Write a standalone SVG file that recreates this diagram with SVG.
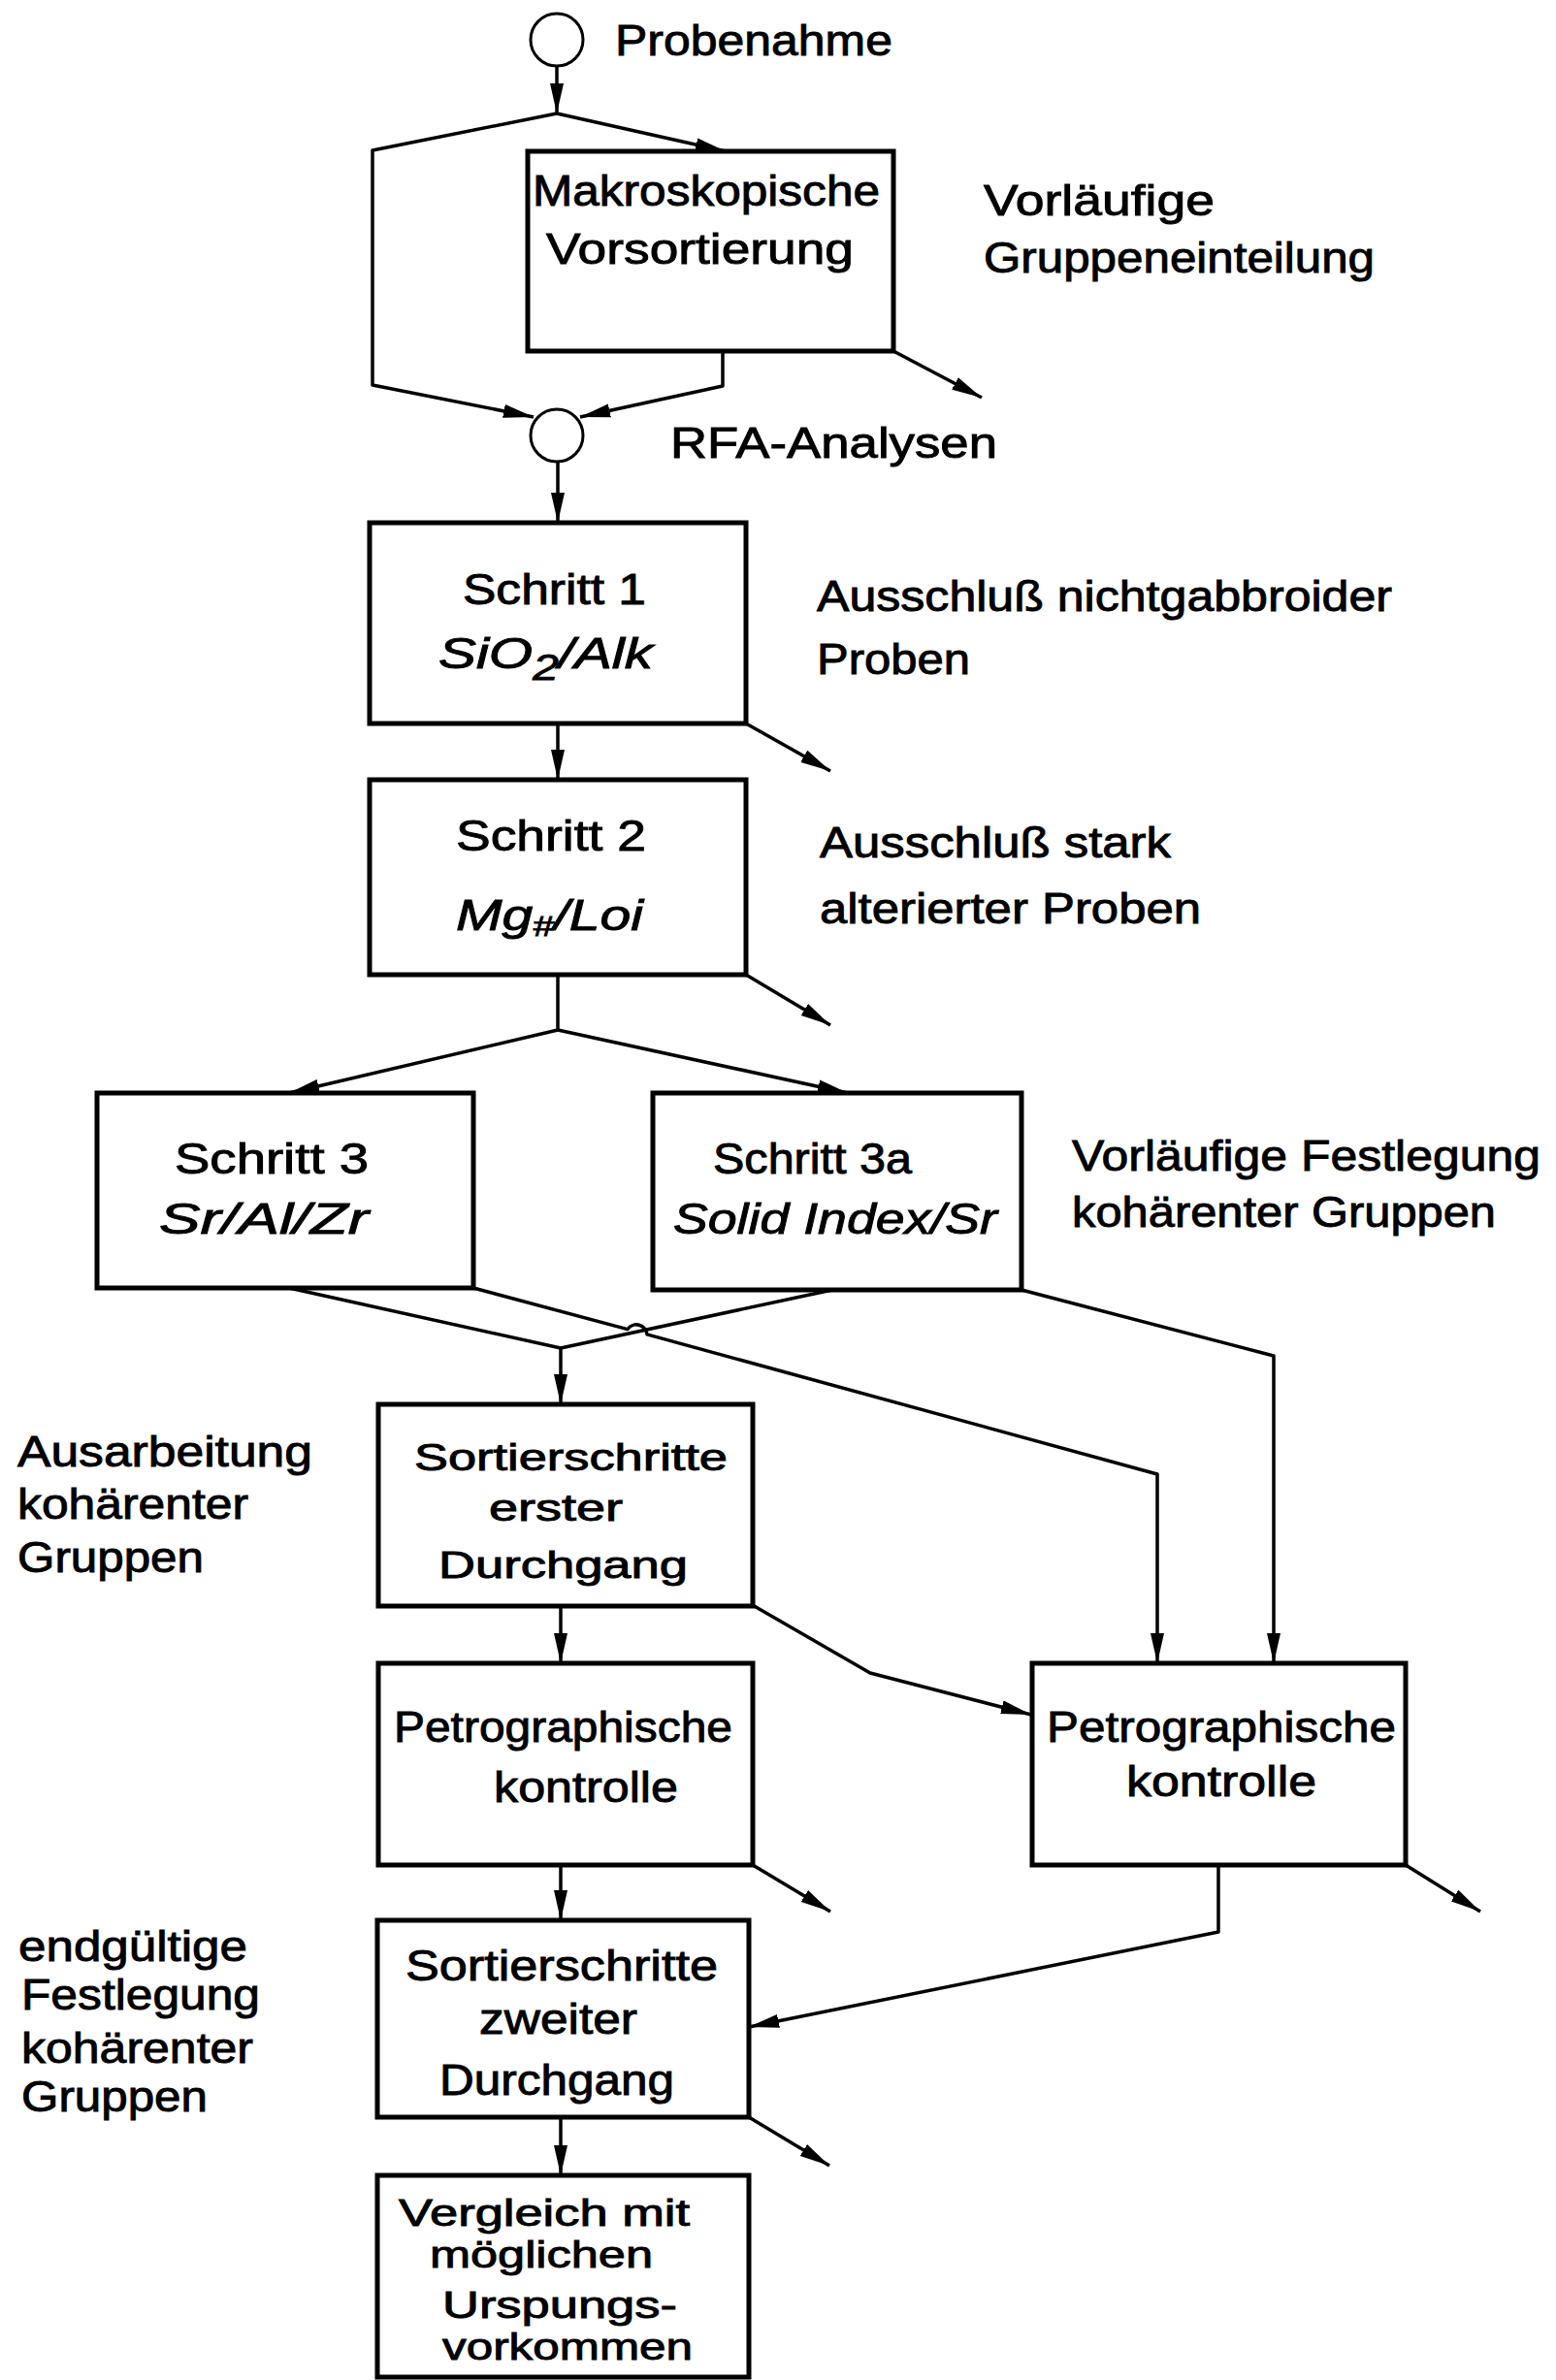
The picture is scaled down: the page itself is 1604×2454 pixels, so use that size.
<svg xmlns="http://www.w3.org/2000/svg" width="1604" height="2454" viewBox="0 0 1604 2454">
<style>
text{font-family:"Liberation Sans","DejaVu Sans",sans-serif;font-size:44px;fill:#000;stroke:#000;stroke-width:0.9}
.it{font-style:italic}
.sm{font-size:38px}
.box{fill:#fff;stroke:#000;stroke-width:5}
.circ{fill:#fff;stroke:#000;stroke-width:3}
.ln{fill:none;stroke:#000;stroke-width:3.5;stroke-linejoin:round}
</style>
<defs>
<marker id="ah" markerUnits="userSpaceOnUse" markerWidth="34" markerHeight="18" refX="31" refY="9" orient="auto">
<path d="M0,2 Q-2,9 0,16 L31,9 z" fill="#000"/>
</marker>
</defs>
<rect width="1604" height="2454" fill="#fff"/>
<g id="connectors">
<path class="ln" d="M574,69 L574,117" marker-end="url(#ah)"/>
<path class="ln" d="M574,117 L384,155 L384,397 L550,430" marker-end="url(#ah)"/>
<path class="ln" d="M574,117 L748,156" marker-end="url(#ah)"/>
<path class="ln" d="M745,362 L745,398 L598,430" marker-end="url(#ah)"/>
<path class="ln" d="M921,362 L1012,410" marker-end="url(#ah)"/>
<path class="ln" d="M575,476 L575,539" marker-end="url(#ah)"/>
<path class="ln" d="M575,746 L575,804" marker-end="url(#ah)"/>
<path class="ln" d="M769,746 L856,795" marker-end="url(#ah)"/>
<path class="ln" d="M769,1005 L856,1057" marker-end="url(#ah)"/>
<path class="ln" d="M575,1005 L575,1062"/>
<path class="ln" d="M575,1062 L298,1127" marker-end="url(#ah)"/>
<path class="ln" d="M575,1062 L874,1127" marker-end="url(#ah)"/>
<path class="ln" d="M298,1328 L578,1390 L858,1330"/>
<path class="ln" d="M578,1390 L578,1448" marker-end="url(#ah)"/>
<path class="ln" d="M488,1328 L647,1370.6 A11,11 0 0 1 667,1375.9 L1193,1520 L1193,1715" marker-end="url(#ah)"/>
<path class="ln" d="M1053,1330 L1313,1398 L1313,1715" marker-end="url(#ah)"/>
<path class="ln" d="M578,1656 L578,1715" marker-end="url(#ah)"/>
<path class="ln" d="M774,1654 L897,1725 L1063,1768" marker-end="url(#ah)"/>
<path class="ln" d="M578,1923 L578,1980" marker-end="url(#ah)"/>
<path class="ln" d="M776,1923 L856,1971" marker-end="url(#ah)"/>
<path class="ln" d="M1449,1923 L1526,1971" marker-end="url(#ah)"/>
<path class="ln" d="M1256,1923 L1256,1992 L772,2090" marker-end="url(#ah)"/>
<path class="ln" d="M772,2183 L855,2233" marker-end="url(#ah)"/>
<path class="ln" d="M578,2183 L578,2243" marker-end="url(#ah)"/>
</g>
<g id="probenahme">
<circle class="circ" cx="574" cy="41" r="27"/>
<text x="634" y="57" textLength="286" lengthAdjust="spacingAndGlyphs">Probenahme</text>
</g>
<g id="makro">
<rect class="box" x="544" y="156" width="377" height="206"/>
<text x="549" y="212" textLength="358" lengthAdjust="spacingAndGlyphs">Makroskopische</text>
<text x="563" y="272" textLength="317" lengthAdjust="spacingAndGlyphs">Vorsortierung</text>
</g>
<g id="label-vorlaeufig">
<text x="1014" y="222" textLength="238" lengthAdjust="spacingAndGlyphs">Vorläufige</text>
<text x="1014" y="281" textLength="403" lengthAdjust="spacingAndGlyphs">Gruppeneinteilung</text>
</g>
<g id="rfa">
<circle class="circ" cx="574" cy="449" r="27"/>
<text x="691" y="472" textLength="337" lengthAdjust="spacingAndGlyphs">RFA-Analysen</text>
</g>
<g id="schritt1">
<rect class="box" x="381" y="539" width="388" height="207"/>
<text x="477" y="623" textLength="189" lengthAdjust="spacingAndGlyphs">Schritt 1</text>
<text class="it" x="452" y="689" textLength="221" lengthAdjust="spacingAndGlyphs">SiO<tspan font-size="36" dy="12">2</tspan><tspan dy="-12">/Alk</tspan></text>
</g>
<g id="label-s1">
<text x="842" y="630" textLength="593" lengthAdjust="spacingAndGlyphs">Ausschluß nichtgabbroider</text>
<text x="842" y="695" textLength="158" lengthAdjust="spacingAndGlyphs">Proben</text>
</g>
<g id="schritt2">
<rect class="box" x="381" y="804" width="388" height="201"/>
<text x="470" y="877" textLength="196" lengthAdjust="spacingAndGlyphs">Schritt 2</text>
<text class="it" x="470" y="959" textLength="193" lengthAdjust="spacingAndGlyphs">Mg<tspan font-size="30" dy="6">#</tspan><tspan dy="-6">/Loi</tspan></text>
</g>
<g id="label-s2">
<text x="845" y="884" textLength="362" lengthAdjust="spacingAndGlyphs">Ausschluß stark</text>
<text x="845" y="952" textLength="393" lengthAdjust="spacingAndGlyphs">alterierter Proben</text>
</g>
<g id="schritt3">
<rect class="box" x="100" y="1127" width="388" height="201"/>
<text x="180" y="1210" textLength="200" lengthAdjust="spacingAndGlyphs">Schritt 3</text>
<text class="it" x="164" y="1272" textLength="216" lengthAdjust="spacingAndGlyphs">Sr/Al/Zr</text>
</g>
<g id="schritt3a">
<rect class="box" x="673" y="1127" width="380" height="203"/>
<text x="735" y="1210" textLength="205" lengthAdjust="spacingAndGlyphs">Schritt 3a</text>
<text class="it" x="694" y="1272" textLength="334" lengthAdjust="spacingAndGlyphs">Solid Index/Sr</text>
</g>
<g id="label-s3">
<text x="1105" y="1207" textLength="483" lengthAdjust="spacingAndGlyphs">Vorläufige Festlegung</text>
<text x="1105" y="1265" textLength="437" lengthAdjust="spacingAndGlyphs">kohärenter Gruppen</text>
</g>
<g id="label-ausarbeitung">
<text x="18" y="1512" textLength="304" lengthAdjust="spacingAndGlyphs">Ausarbeitung</text>
<text x="18" y="1566" textLength="238" lengthAdjust="spacingAndGlyphs">kohärenter</text>
<text x="18" y="1621" textLength="192" lengthAdjust="spacingAndGlyphs">Gruppen</text>
</g>
<g id="sort1">
<rect class="box" x="390" y="1448" width="386" height="208"/>
<text class="sm" x="427" y="1516" textLength="323" lengthAdjust="spacingAndGlyphs">Sortierschritte</text>
<text class="sm" x="504" y="1568" textLength="138" lengthAdjust="spacingAndGlyphs">erster</text>
<text class="sm" x="452" y="1627" textLength="257" lengthAdjust="spacingAndGlyphs">Durchgang</text>
</g>
<g id="petro-left">
<rect class="box" x="390" y="1715" width="386" height="208"/>
<text x="406" y="1796" textLength="349" lengthAdjust="spacingAndGlyphs">Petrographische</text>
<text x="509" y="1858" textLength="190" lengthAdjust="spacingAndGlyphs">kontrolle</text>
</g>
<g id="petro-right">
<rect class="box" x="1064" y="1715" width="385" height="208"/>
<text x="1079" y="1796" textLength="360" lengthAdjust="spacingAndGlyphs">Petrographische</text>
<text x="1161" y="1852" textLength="196" lengthAdjust="spacingAndGlyphs">kontrolle</text>
</g>
<g id="label-endgueltig">
<text x="19" y="2022" textLength="236" lengthAdjust="spacingAndGlyphs">endgültige</text>
<text x="22" y="2072" textLength="246" lengthAdjust="spacingAndGlyphs">Festlegung</text>
<text x="22" y="2127" textLength="239" lengthAdjust="spacingAndGlyphs">kohärenter</text>
<text x="22" y="2177" textLength="192" lengthAdjust="spacingAndGlyphs">Gruppen</text>
</g>
<g id="sort2">
<rect class="box" x="389" y="1980" width="383" height="203"/>
<text x="418" y="2042" textLength="322" lengthAdjust="spacingAndGlyphs">Sortierschritte</text>
<text x="494" y="2097" textLength="163" lengthAdjust="spacingAndGlyphs">zweiter</text>
<text x="453" y="2160" textLength="242" lengthAdjust="spacingAndGlyphs">Durchgang</text>
</g>
<g id="vergleich">
<rect class="box" x="389" y="2243" width="383" height="208"/>
<text class="sm" x="411" y="2295" textLength="300" lengthAdjust="spacingAndGlyphs">Vergleich mit</text>
<text class="sm" x="443" y="2338" textLength="230" lengthAdjust="spacingAndGlyphs">möglichen</text>
<text class="sm" x="456" y="2390" textLength="242" lengthAdjust="spacingAndGlyphs">Urspungs-</text>
<text class="sm" x="456" y="2433" textLength="258" lengthAdjust="spacingAndGlyphs">vorkommen</text>
</g>
</svg>
